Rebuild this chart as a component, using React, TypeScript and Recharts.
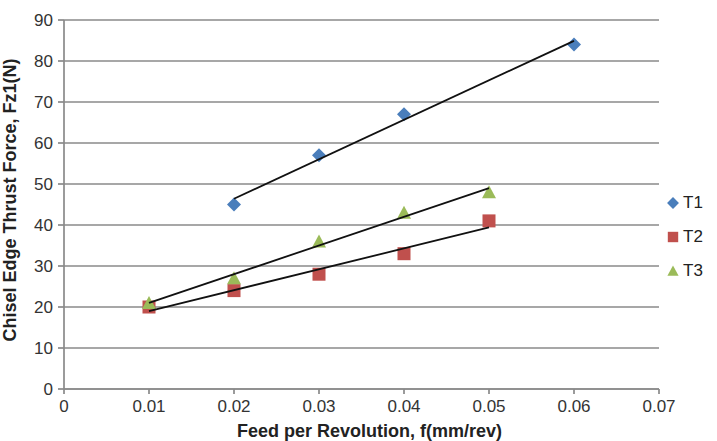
// Chisel edge thrust force vs feed per revolution — scatter with linear trendlines
import { CartesianGrid, Label, Legend, Scatter, ScatterChart, XAxis, YAxis } from 'recharts';

const T1_FEED = [0.02, 0.03, 0.04, 0.06];
const T1_FORCE = [45, 57, 67, 84];
const FEED = [0.01, 0.02, 0.03, 0.04, 0.05];
const T2_FORCE = [20, 24, 28, 33, 41];
const T3_FORCE = [21, 27, 36, 43, 48];

const X_TICKS = [0, 0.01, 0.02, 0.03, 0.04, 0.05, 0.06, 0.07];
const Y_TICKS = [0, 10, 20, 30, 40, 50, 60, 70, 80, 90];

const SERIES = [
  { name: 'T1', color: '#4A7EBB', shape: 'diamond' },
  { name: 'T2', color: '#C0504D', shape: 'square' },
  { name: 'T3', color: '#9BBB59', shape: 'triangle' },
];

const FONT = '"Liberation Sans", Arial, sans-serif';
const GRID = '#8a8a8a';

const toPoints = (xs: number[], ys: number[]) => xs.map((x, i) => ({ x, y: ys[i] }));

// least-squares line over the points, drawn between first and last feed
function trend(xs: number[], ys: number[]) {
  const n = xs.length;
  const mx = xs.reduce((a, b) => a + b, 0) / n;
  const my = ys.reduce((a, b) => a + b, 0) / n;
  let sxx = 0;
  let sxy = 0;
  xs.forEach((x, i) => {
    sxx += (x - mx) * (x - mx);
    sxy += (x - mx) * (ys[i] - my);
  });
  const k = sxy / sxx;
  const lo = Math.min(...xs);
  const hi = Math.max(...xs);
  return [
    { x: lo, y: my + k * (lo - mx) },
    { x: hi, y: my + k * (hi - mx) },
  ];
}

function marker(shape: string, cx: number, cy: number, fill: string, s = 1) {
  if (shape === 'diamond') {
    const r = 7 * s;
    return <polygon points={`${cx},${cy - r} ${cx + r},${cy} ${cx},${cy + r} ${cx - r},${cy}`} fill={fill} />;
  }
  if (shape === 'square') {
    const r = 6.5 * s;
    return <rect x={cx - r} y={cy - r} width={r * 2} height={r * 2} fill={fill} />;
  }
  const w = 7 * s;
  return <polygon points={`${cx},${cy - 7 * s} ${cx + w},${cy + 6 * s} ${cx - w},${cy + 6 * s}`} fill={fill} />;
}

const shapeFor = (shape: string, color: string) => (props: any) =>
  marker(shape, props.cx, props.cy, color);

function LegendBox() {
  return (
    <div style={{ fontFamily: FONT, fontSize: 17, color: '#222' }}>
      {SERIES.map((s) => (
        <div key={s.name} style={{ display: 'flex', alignItems: 'center', height: 34 }}>
          <svg width={18} height={16}>
            {marker(s.shape, 8, 8, s.color, s.shape === 'diamond' ? 0.85 : 0.8)}
          </svg>
          <span>{s.name}</span>
        </div>
      ))}
    </div>
  );
}

export default function App() {
  const tick = { fontSize: 17, fill: '#333', fontFamily: FONT };
  return (
    <div style={{ position: 'fixed', left: 0, top: 0, width: 717, height: 441, background: '#fff' }}>
      <ScatterChart width={717} height={441} margin={{ top: 20, right: 58, bottom: 0, left: 0 }}>
        <CartesianGrid vertical={false} stroke={GRID} strokeWidth={1.7} />
        <XAxis
          type="number"
          dataKey="x"
          domain={[0, 0.07]}
          ticks={X_TICKS}
          height={52}
          tick={tick}
          tickSize={5}
          tickMargin={6}
          stroke={GRID}
          strokeWidth={1.7}
        >
          <Label
            content={({ viewBox }: any) => (
              <text
                x={viewBox.x + viewBox.width / 2 + 8}
                y={437}
                textAnchor="middle"
                fontFamily={FONT}
                fontWeight="bold"
                fontSize={18}
                fill="#222"
              >
                Feed per Revolution, f(mm/rev)
              </text>
            )}
          />
        </XAxis>
        <YAxis
          type="number"
          dataKey="y"
          domain={[0, 90]}
          ticks={Y_TICKS}
          width={64}
          tick={tick}
          tickSize={6}
          tickMargin={5}
          stroke={GRID}
          strokeWidth={1.7}
        >
          <Label
            content={() => (
              <text
                x={0}
                y={0}
                transform="translate(16, 200) rotate(-90)"
                textAnchor="middle"
                fontFamily={FONT}
                fontWeight="bold"
                fontSize={18}
                fill="#222"
              >
                Chisel Edge Thrust Force, Fz1(N)
              </text>
            )}
          />
        </YAxis>
        <Legend
          layout="vertical"
          align="center"
          verticalAlign="middle"
          content={() => <LegendBox />}
          wrapperStyle={{ left: 665, top: 186, width: 52 }}
        />
        <Scatter
          name="T1"
          data={toPoints(T1_FEED, T1_FORCE)}
          shape={shapeFor('diamond', SERIES[0].color)}
          isAnimationActive={false}
        />
        <Scatter
          name="T2"
          data={toPoints(FEED, T2_FORCE)}
          shape={shapeFor('square', SERIES[1].color)}
          isAnimationActive={false}
        />
        <Scatter
          name="T3"
          data={toPoints(FEED, T3_FORCE)}
          shape={shapeFor('triangle', SERIES[2].color)}
          isAnimationActive={false}
        />
        <Scatter
          data={trend(T1_FEED, T1_FORCE)}
          line={{ stroke: '#111', strokeWidth: 1.8 }}
          shape={() => null}
          legendType="none"
          isAnimationActive={false}
        />
        <Scatter
          data={trend(FEED, T2_FORCE)}
          line={{ stroke: '#111', strokeWidth: 1.8 }}
          shape={() => null}
          legendType="none"
          isAnimationActive={false}
        />
        <Scatter
          data={trend(FEED, T3_FORCE)}
          line={{ stroke: '#111', strokeWidth: 1.8 }}
          shape={() => null}
          legendType="none"
          isAnimationActive={false}
        />
      </ScatterChart>
    </div>
  );
}
